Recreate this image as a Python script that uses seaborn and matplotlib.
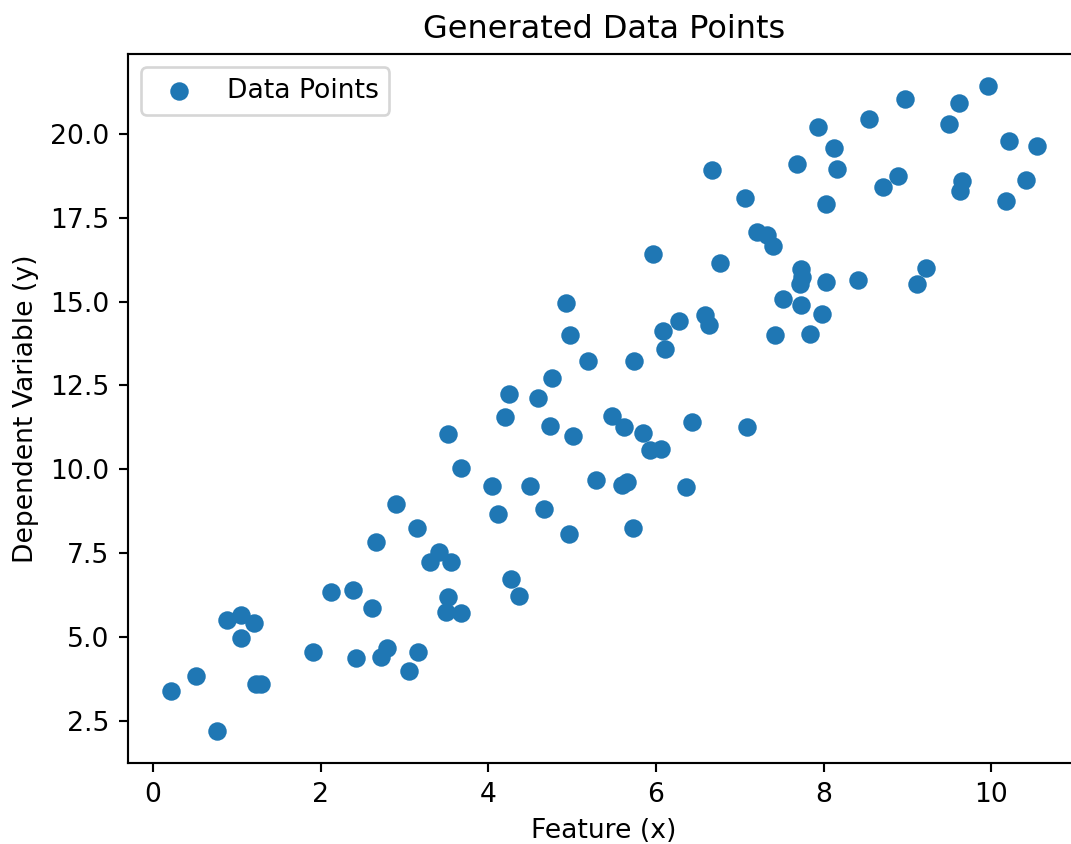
import matplotlib
matplotlib.use("Agg")
import matplotlib.pyplot as plt
import seaborn as sns
import pandas as pd

# Feature values (x) and the dependent variable (y) for each sample
feature_x = [
    6.67, 7.06, 7.20, 7.32, 7.40, 5.96, 6.76, 7.93, 8.54, 8.97,
    9.61, 9.96, 9.49, 10.21, 10.54, 8.12, 7.68, 8.16, 8.88, 8.71,
    9.65, 9.63, 10.41, 10.17, 8.03, 7.73, 7.74, 7.72, 8.03, 8.41,
    9.22, 9.11, 7.51, 7.73, 7.98, 7.42, 7.84, 7.09, 4.93, 4.97,
    5.19, 5.74, 6.08, 6.28, 6.58, 6.63, 6.11, 4.76, 4.25, 4.59,
    4.20, 4.74, 5.01, 5.47, 5.62, 5.84, 5.93, 6.06, 6.43, 3.52,
    3.68, 4.04, 4.50, 5.29, 5.59, 5.65, 6.36, 4.12, 4.67, 4.96,
    5.72, 3.30, 3.41, 3.56, 4.27, 4.37, 3.52, 3.50, 3.67, 2.90,
    3.15, 2.66, 2.13, 2.39, 2.61, 0.88, 1.05, 1.21, 1.05, 1.91,
    2.42, 2.72, 2.79, 3.16, 3.05, 0.52, 0.22, 1.23, 1.29, 0.76,
]
target_y = [
    18.92, 18.10, 17.06, 16.99, 16.66, 16.43, 16.15, 20.19, 20.43, 21.05,
    20.93, 21.42, 20.30, 19.80, 19.63, 19.59, 19.10, 18.95, 18.74, 18.42,
    18.60, 18.31, 18.62, 18.00, 17.92, 15.97, 15.74, 15.52, 15.57, 15.65,
    16.00, 15.51, 15.08, 14.91, 14.62, 14.01, 14.02, 11.26, 14.96, 14.00,
    13.24, 13.24, 14.11, 14.41, 14.61, 14.29, 13.59, 12.73, 12.25, 12.12,
    11.57, 11.29, 10.98, 11.58, 11.26, 11.08, 10.56, 10.59, 11.42, 11.04,
    10.05, 9.49, 9.49, 9.67, 9.53, 9.62, 9.46, 8.67, 8.81, 8.07,
    8.24, 7.23, 7.54, 7.24, 6.73, 6.21, 6.18, 5.73, 5.71, 8.96,
    8.26, 7.84, 6.33, 6.40, 5.85, 5.49, 5.66, 5.42, 4.96, 4.54,
    4.38, 4.41, 4.67, 4.54, 3.98, 3.83, 3.40, 3.60, 3.60, 2.20,
]

df = pd.DataFrame({"x": feature_x, "y": target_y})

DPI = 192
fig = plt.figure(figsize=(1071 / DPI, 844 / DPI), dpi=DPI)
ax = fig.add_axes([0.1195, 0.096, 0.8889, 0.840])

sns.scatterplot(data=df, x="x", y="y", ax=ax, color="#1f77b4", s=48,
                linewidth=0, label="Data Points")

ax.set_title("Generated Data Points", fontsize=12)
ax.set_xlabel("Feature (x)", fontsize=10)
ax.set_ylabel("Dependent Variable (y)", fontsize=10)
ax.set_xticks([0, 2, 4, 6, 8, 10])
ax.set_yticks([2.5, 5.0, 7.5, 10.0, 12.5, 15.0, 17.5, 20.0])
ax.yaxis.set_major_formatter(matplotlib.ticker.FormatStrFormatter("%.1f"))
ax.legend(loc="upper left", fontsize=10)

fig.savefig("out.png", dpi=DPI)
